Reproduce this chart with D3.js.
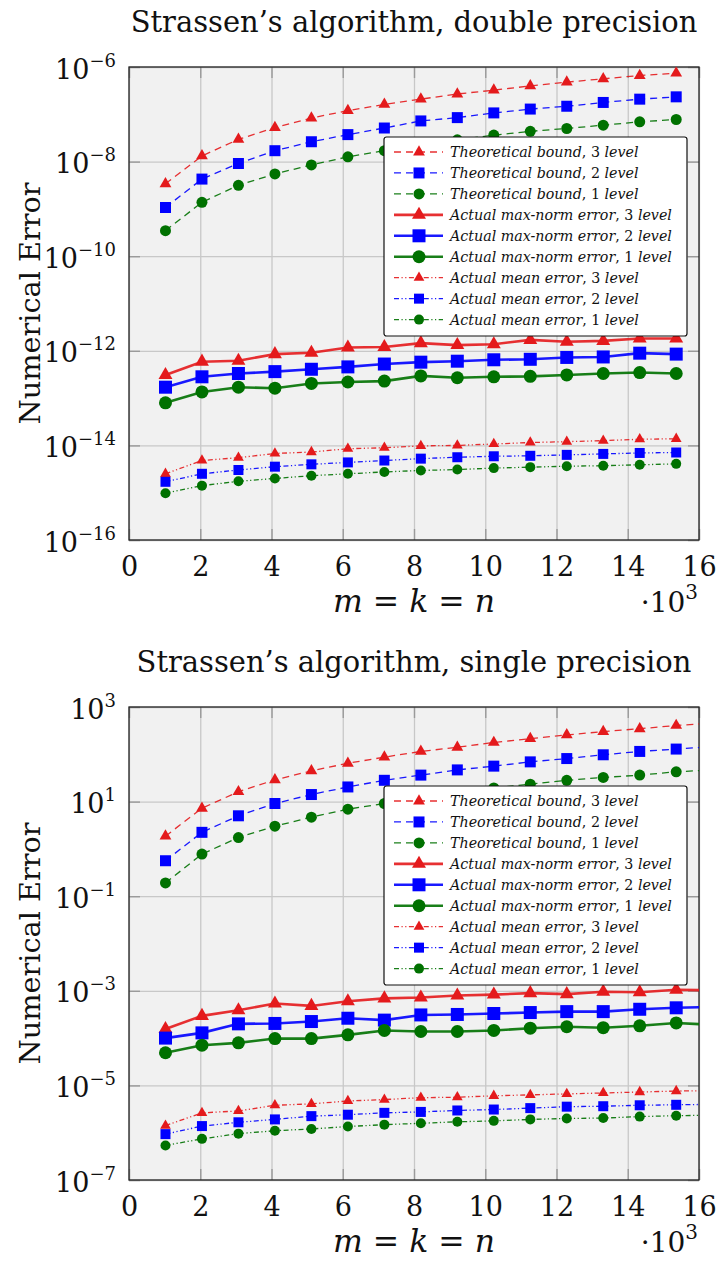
<!DOCTYPE html>
<html>
<head>
<meta charset="utf-8">
<script src="https://cdn.jsdelivr.net/npm/d3@7"></script>
<style>
  body { margin: 0; background: #fff; }
  svg text { font-family: "DejaVu Serif", serif; fill: #111; }
</style>
</head>
<body>
<div id="chart"></div>
<script>
// matrix sizes m = k = n
const sizes = [1024, 2048, 3072, 4096, 5120, 6144, 7168, 8192, 9216, 10240, 11264, 12288, 13312, 14336, 15360, 16384];

// double precision panel (15 sizes)
const dblTheory3 = [3.39e-9, 1.32e-8, 2.95e-8, 5.25e-8, 8.32e-8, 1.20e-7, 1.62e-7, 2.09e-7, 2.69e-7, 3.24e-7, 3.98e-7, 4.79e-7, 5.62e-7, 6.61e-7, 7.41e-7];
const dblTheory2 = [1.07e-9, 4.27e-9, 9.12e-9, 1.70e-8, 2.63e-8, 3.72e-8, 5.13e-8, 7.24e-8, 8.51e-8, 1.07e-7, 1.29e-7, 1.48e-7, 1.78e-7, 2.09e-7, 2.34e-7];
const dblTheory1 = [3.47e-10, 1.38e-9, 3.16e-9, 5.50e-9, 8.51e-9, 1.26e-8, 1.70e-8, 2.29e-8, 2.88e-8, 3.63e-8, 4.37e-8, 5.01e-8, 5.89e-8, 6.92e-8, 7.76e-8];
const dblMax3 = [3.09e-13, 5.89e-13, 6.17e-13, 8.51e-13, 9.12e-13, 1.17e-12, 1.20e-12, 1.45e-12, 1.32e-12, 1.38e-12, 1.70e-12, 1.55e-12, 1.62e-12, 1.82e-12, 1.82e-12];
const dblMax2 = [1.70e-13, 2.82e-13, 3.31e-13, 3.63e-13, 4.07e-13, 4.57e-13, 5.25e-13, 5.75e-13, 6.03e-13, 6.46e-13, 6.61e-13, 7.24e-13, 7.41e-13, 8.91e-13, 8.51e-13];
const dblMax1 = [7.94e-14, 1.35e-13, 1.70e-13, 1.62e-13, 2.04e-13, 2.19e-13, 2.29e-13, 2.95e-13, 2.69e-13, 2.82e-13, 2.88e-13, 3.09e-13, 3.31e-13, 3.47e-13, 3.31e-13];
const dblMean3 = [2.51e-15, 4.79e-15, 5.50e-15, 6.76e-15, 7.24e-15, 8.51e-15, 8.91e-15, 9.77e-15, 1.00e-14, 1.07e-14, 1.15e-14, 1.20e-14, 1.26e-14, 1.35e-14, 1.38e-14];
const dblMean2 = [1.70e-15, 2.51e-15, 3.02e-15, 3.55e-15, 3.98e-15, 4.37e-15, 4.79e-15, 5.25e-15, 5.62e-15, 5.89e-15, 6.03e-15, 6.31e-15, 6.61e-15, 6.92e-15, 7.08e-15];
const dblMean1 = [9.77e-16, 1.41e-15, 1.74e-15, 2.00e-15, 2.29e-15, 2.51e-15, 2.75e-15, 2.95e-15, 3.09e-15, 3.31e-15, 3.47e-15, 3.63e-15, 3.72e-15, 3.89e-15, 4.07e-15];

// single precision panel (16 sizes, last one runs off the axis)
const sglTheory3 = [1.86, 7.24, 16.2, 28.8, 44.7, 64.6, 87.1, 115, 141, 178, 214, 257, 302, 347, 407, 457];
const sglTheory2 = [0.562, 2.24, 5.01, 9.12, 14.1, 20.4, 28.2, 36.3, 46.8, 56.2, 69.2, 81.3, 97.7, 115, 129, 145];
const sglTheory1 = [0.191, 0.776, 1.74, 3.02, 4.68, 6.92, 9.12, 12.0, 15.5, 19.5, 23.4, 28.2, 32.4, 36.3, 42.7, 46.8];
const sglMax3 = [1.55e-4, 2.95e-4, 3.89e-4, 5.37e-4, 4.79e-4, 6.03e-4, 6.92e-4, 7.24e-4, 7.94e-4, 8.32e-4, 8.91e-4, 8.51e-4, 9.55e-4, 9.33e-4, 1.05e-3, 1.02e-3];
const sglMax2 = [1.00e-4, 1.29e-4, 2.00e-4, 2.04e-4, 2.24e-4, 2.63e-4, 2.40e-4, 3.09e-4, 3.16e-4, 3.31e-4, 3.47e-4, 3.63e-4, 3.63e-4, 4.07e-4, 4.37e-4, 4.57e-4];
const sglMax1 = [4.90e-5, 7.08e-5, 7.94e-5, 9.77e-5, 9.77e-5, 1.17e-4, 1.45e-4, 1.38e-4, 1.38e-4, 1.45e-4, 1.62e-4, 1.74e-4, 1.66e-4, 1.82e-4, 2.09e-4, 1.91e-4];
const sglMean3 = [1.41e-6, 2.63e-6, 2.88e-6, 3.80e-6, 4.07e-6, 4.68e-6, 5.01e-6, 5.50e-6, 5.62e-6, 6.03e-6, 6.31e-6, 6.61e-6, 6.92e-6, 7.24e-6, 7.59e-6, 7.76e-6];
const sglMean2 = [9.33e-7, 1.38e-6, 1.66e-6, 1.91e-6, 2.24e-6, 2.40e-6, 2.63e-6, 2.75e-6, 2.95e-6, 3.09e-6, 3.31e-6, 3.55e-6, 3.63e-6, 3.80e-6, 3.89e-6, 3.98e-6];
const sglMean1 = [5.37e-7, 7.41e-7, 9.55e-7, 1.10e-6, 1.20e-6, 1.35e-6, 1.48e-6, 1.58e-6, 1.70e-6, 1.78e-6, 1.91e-6, 2.00e-6, 2.04e-6, 2.19e-6, 2.29e-6, 2.34e-6];

const legendLabels = [
    "Theoretical bound, 3 level",
    "Theoretical bound, 2 level",
    "Theoretical bound, 1 level",
    "Actual max-norm error, 3 level",
    "Actual max-norm error, 2 level",
    "Actual max-norm error, 1 level",
    "Actual mean error, 3 level",
    "Actual mean error, 2 level",
    "Actual mean error, 1 level"
];
const xTicks = [0, 2, 4, 6, 8, 10, 12, 14, 16];
const dblExponents = [-16, -14, -12, -10, -8, -6];
const sglExponents = [-7, -5, -3, -1, 1, 3];

const plotL = 129, plotR = 699, plotH = 473;

const levelColor = {3: "#e41a1c", 2: "#0000ff", 1: "#007100"};
const levelShape = {3: d3.symbolTriangle, 2: d3.symbolSquare, 1: d3.symbolCircle};
const kindStyle = {
    theory: {dash: "7,5", width: 1.3, size: 11},
    max: {dash: null, width: 2.6, size: 13},
    mean: {dash: "5,2.5,1.2,2.5,1.2,2.5", width: 1.3, size: 10}
};

function symbolArea(shape, side) {
    if (shape === d3.symbolSquare) return side * side;
    if (shape === d3.symbolCircle) return Math.PI * side * side / 4;
    return Math.sqrt(3) / 4 * side * side * 1.15;
}

const svg = d3.select("#chart").append("svg")
    .attr("width", 719)
    .attr("height", 1269);

// shrink/grow a text so that it spans the given width
function fitWidth(sel, target) {
    const fs = parseFloat(sel.attr("font-size"));
    const w = sel.node().getComputedTextLength();
    sel.attr("font-size", fs * target / w);
    return fs * target / w;
}

function buildSeries(vals) {
    const kinds = ["theory", "theory", "theory", "max", "max", "max", "mean", "mean", "mean"];
    const levels = [3, 2, 1, 3, 2, 1, 3, 2, 1];
    return vals.map((v, i) => ({label: legendLabels[i], values: v, kind: kinds[i], level: levels[i]}));
}

const panels = [
    {id: "dbl", top: 67, title: "Strassen\u2019s algorithm, double precision", exps: dblExponents, legendTop: 137,
     series: buildSeries([dblTheory3, dblTheory2, dblTheory1, dblMax3, dblMax2, dblMax1, dblMean3, dblMean2, dblMean1])},
    {id: "sgl", top: 707, title: "Strassen\u2019s algorithm, single precision", exps: sglExponents, legendTop: 786,
     series: buildSeries([sglTheory3, sglTheory2, sglTheory1, sglMax3, sglMax2, sglMax1, sglMean3, sglMean2, sglMean1])}
];

let titleSize = null;

panels.forEach(p => {
    const top = p.top, bottom = p.top + plotH;
    const x = d3.scaleLinear().domain([0, 16]).range([plotL, plotR]);
    const y = d3.scaleLog()
        .domain([Math.pow(10, d3.min(p.exps)), Math.pow(10, d3.max(p.exps))])
        .range([bottom, top]);
    const yTicks = p.exps.map(e => Math.pow(10, e));

    const g = svg.append("g");

    g.append("clipPath").attr("id", "clip-" + p.id)
        .append("rect")
        .attr("x", plotL).attr("y", top)
        .attr("width", plotR - plotL).attr("height", plotH);

    // plot background
    g.append("rect")
        .attr("x", plotL).attr("y", top)
        .attr("width", plotR - plotL).attr("height", plotH)
        .attr("fill", "#f1f1f1");

    // grid
    g.append("g")
        .attr("transform", `translate(0,${bottom})`)
        .call(d3.axisBottom(x).tickValues(xTicks).tickSize(-plotH).tickFormat(""))
        .call(a => a.select(".domain").remove())
        .selectAll("line").attr("stroke", "#c8c8c8").attr("stroke-width", 1.3);
    g.append("g")
        .attr("transform", `translate(${plotL},0)`)
        .call(d3.axisLeft(y).tickValues(yTicks).tickSize(-(plotR - plotL)).tickFormat(""))
        .call(a => a.select(".domain").remove())
        .selectAll("line").attr("stroke", "#c8c8c8").attr("stroke-width", 1.3);

    // short tick marks on all four sides
    const tickLen = 11;
    const tickAxes = [
        [d3.axisBottom(x).tickValues(xTicks), `translate(0,${bottom})`],
        [d3.axisTop(x).tickValues(xTicks), `translate(0,${top})`],
        [d3.axisLeft(y).tickValues(yTicks), `translate(${plotL},0)`],
        [d3.axisRight(y).tickValues(yTicks), `translate(${plotR},0)`]
    ];
    tickAxes.forEach(([ax, tr]) => {
        g.append("g").attr("transform", tr)
            .call(ax.tickSize(-tickLen).tickFormat(""))
            .call(a => a.select(".domain").remove())
            .selectAll("line").attr("stroke", "#9a9a9a").attr("stroke-width", 1.4);
    });

    // border
    g.append("rect")
        .attr("x", plotL).attr("y", top)
        .attr("width", plotR - plotL).attr("height", plotH)
        .attr("fill", "none")
        .attr("stroke", "#222")
        .attr("stroke-width", 1.3);

    // x tick labels
    const xl = g.append("g")
        .attr("transform", `translate(0,${bottom})`)
        .call(d3.axisBottom(x).tickValues(xTicks).tickSize(0).tickFormat(d3.format("d")));
    xl.attr("font-family", null).attr("font-size", null);
    xl.select(".domain").remove();
    xl.selectAll("text")
        .attr("y", 36).attr("dy", null)
        .attr("font-size", 27)
        .attr("fill", "#111");

    // y tick labels 10^e
    const yl = g.append("g")
        .attr("transform", `translate(${plotL},0)`)
        .call(d3.axisLeft(y).tickValues(yTicks).tickSize(0).tickFormat(""));
    yl.attr("font-family", null).attr("font-size", null);
    yl.select(".domain").remove();
    yl.selectAll("text")
        .attr("x", -13).attr("y", 11).attr("dy", null)
        .attr("fill", "#111")
        .each(function(d) {
            const t = d3.select(this);
            const e = Math.round(Math.log10(d));
            t.append("tspan").attr("font-size", 27).text("10");
            t.append("tspan").attr("font-size", 18).attr("dy", -12)
                .text((e < 0 ? "\u2212" : "") + Math.abs(e));
        });

    // title
    const title = g.append("text")
        .attr("x", (plotL + plotR) / 2)
        .attr("y", top - 35)
        .attr("text-anchor", "middle")
        .attr("font-size", 26)
        .text(p.title);
    if (titleSize === null) titleSize = fitWidth(title, 567);
    else title.attr("font-size", titleSize);

    // y label
    const ylab = g.append("text")
        .attr("transform", `translate(40,${(top + bottom) / 2}) rotate(-90)`)
        .attr("text-anchor", "middle")
        .attr("font-size", 26)
        .text("Numerical Error");
    fitWidth(ylab, 242);

    // x label m = k = n
    const xlab = g.append("text")
        .attr("x", (plotL + plotR) / 2)
        .attr("y", bottom + 72)
        .attr("text-anchor", "middle")
        .attr("font-size", 26);
    ["m", " = ", "k", " = ", "n"].forEach(s => {
        xlab.append("tspan")
            .attr("font-style", s.trim() === "=" ? "normal" : "italic")
            .text(s);
    });
    fitWidth(xlab, 162);

    // scale label
    const sc = g.append("text")
        .attr("x", plotR - 1)
        .attr("y", bottom + 72)
        .attr("text-anchor", "end");
    sc.append("tspan").attr("font-size", 28).text("\u00b710");
    sc.append("tspan").attr("font-size", 20).attr("dy", -13).text("3");

    // data
    const line = d3.line().x(d => x(d[0])).y(d => y(d[1]));
    const plot = g.append("g").attr("clip-path", `url(#clip-${p.id})`);

    p.series.forEach(s => {
        const st = kindStyle[s.kind];
        const pts = s.values.map((v, i) => [sizes[i] / 1000, v]);
        const col = levelColor[s.level];
        const shape = levelShape[s.level];
        plot.append("path")
            .datum(pts)
            .attr("fill", "none")
            .attr("stroke", col)
            .attr("stroke-opacity", 0.9)
            .attr("stroke-width", st.width)
            .attr("stroke-dasharray", st.dash)
            .attr("d", line);
        plot.selectAll(null)
            .data(pts)
            .enter().append("path")
            .attr("transform", d => `translate(${x(d[0])},${y(d[1])})`)
            .attr("fill", col)
            .attr("d", d3.symbol().type(shape).size(symbolArea(shape, st.size)));
    });

    // legend
    const lx = 384, ly = p.legendTop, rowH = 20.95;
    const lg = g.append("g").attr("transform", `translate(${lx},${ly})`);
    lg.append("rect")
        .attr("width", 303).attr("height", 199)
        .attr("rx", 2.5)
        .attr("fill", "#fff")
        .attr("stroke", "#111")
        .attr("stroke-width", 1.2);

    let legendSize = null;
    const longest = legendLabels.reduce((a, b) => (b.length > a.length ? b : a));
    p.series.forEach((s, i) => {
        const st = kindStyle[s.kind];
        const col = levelColor[s.level];
        const shape = levelShape[s.level];
        const cy = 15 + i * rowH;
        lg.append("line")
            .attr("x1", 10).attr("x2", 59)
            .attr("y1", cy).attr("y2", cy)
            .attr("stroke", col)
            .attr("stroke-opacity", 0.9)
            .attr("stroke-width", st.width)
            .attr("stroke-dasharray", st.dash);
        lg.append("path")
            .attr("transform", `translate(35,${cy})`)
            .attr("fill", col)
            .attr("d", d3.symbol().type(shape).size(symbolArea(shape, st.size)));
        const t = lg.append("text")
            .attr("x", 66).attr("y", cy + 5)
            .attr("font-size", 14);
        s.label.split(/(, \d )/).forEach(part => {
            t.append("tspan")
                .attr("font-style", /\d/.test(part) ? "normal" : "italic")
                .text(part);
        });
        if (s.label === longest) legendSize = fitWidth(t, 222);
    });
    lg.selectAll("text").attr("font-size", legendSize);
});
</script>
</body>
</html>
